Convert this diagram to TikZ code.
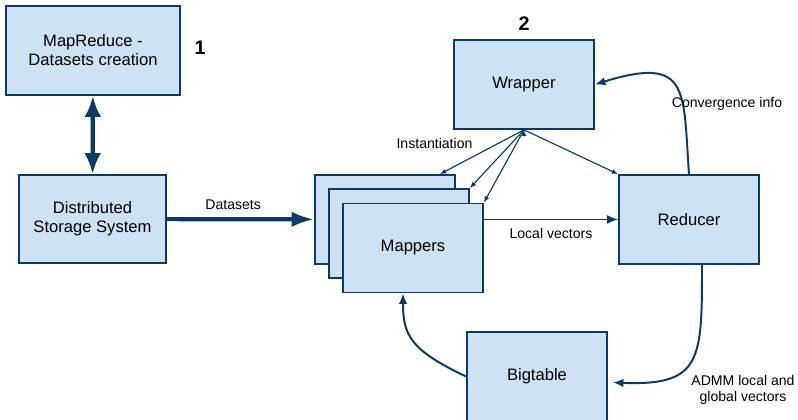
\documentclass[tikz,border=0pt]{standalone}
\usepackage{fontspec}
\setmainfont{Liberation Sans}
\usepackage{tikz}
\usetikzlibrary{arrows.meta,calc}
\definecolor{boxfill}{HTML}{CFE2F3}
\definecolor{boxline}{HTML}{0B3A66}
\tikzset{
	block/.style={draw=boxline,fill=boxfill,line width=1.2pt,minimum width=3.5cm,
		minimum height=2.225cm,align=center,font=\fontsize{11.8}{13.5}\selectfont},
	lbl/.style={font=\fontsize{10}{11.8}\selectfont,align=center},
	num/.style={font=\fontsize{14}{16}\selectfont\bfseries},
	fatline/.style={draw=boxline,line width=3pt},
	inst/.style={draw=boxline,line width=0.8pt,-{Latex[length=4.5pt,width=3.5pt]}},
	flow/.style={draw=boxline,line width=1.3pt,-{Latex[length=8pt,width=6.4pt]}},
	curvearrow/.style={draw=boxline,line width=1.4pt,-{Latex[length=7.5pt,width=6pt]}},
}

\begin{document}
\begin{tikzpicture}[x=0.025cm,y=0.025cm]
	\useasboundingbox (0,0) rectangle (798,420);
	%
	\node[block,minimum width=4.35cm] (MR) at (93,369.5) {MapReduce -\\Datasets creation};
	\node[block,minimum width=3.675cm,minimum height=2.2cm] (DSS) at (92.5,201) {Distributed\\Storage System};
	\node[num] (N1) at (200,372) {1};
	%
	\node[block] (M1) at (385,200.5) {};
	\node[block] (M2) at (399,186.5) {};
	\node[block] (M3) at (413,172) {Mappers};
	\node[block] (W) at (524,335.5) {Wrapper};
	\node[num] (N2) at (524,396) {2};
	\node[block] (R) at (689,200.5) {Reducer};
	\node[block] (B) at (537,43.5) {Bigtable};
	%
	\draw[fatline,{Latex[length=15pt,width=12pt]}-{Latex[length=15pt,width=12pt]}] (MR) -- (DSS);
	\draw[fatline,-{Latex[length=16pt,width=11pt]}] (DSS) -- node[lbl,above,pos=.45,yshift=2pt]{Datasets} (M1);
	%
	\path[inst]
	(W.south) edge node[lbl,pos=.3,left=15pt]{Instantiation} ($(M1.north east)+(-16,0)$)
		edge (M2.north east)
		edge (M3.north east)
		edge (R.north west);
	%
	\draw[flow] (M3.east |- R.west) -- node[lbl,below,yshift=-2pt]{Local vectors} (R.west);
	%
	\draw[curvearrow] (R.north) .. controls (683,330) and (690,365) .. (W.east);
	\node[lbl] (CI) at (727,316) {Convergence info};
	\draw[curvearrow] ($(R.south)+(13,0)$) .. controls (702,60) and (702,34) .. ($(B.east)+(5,-6)$);
	\node[lbl] (AD) at (743,30) {ADMM local and\\global vectors};
	\draw[curvearrow] (B.west) .. controls (410,70) and (403,85) .. ($(M3.south)+(-10,0)$);
\end{tikzpicture}
\end{document}
